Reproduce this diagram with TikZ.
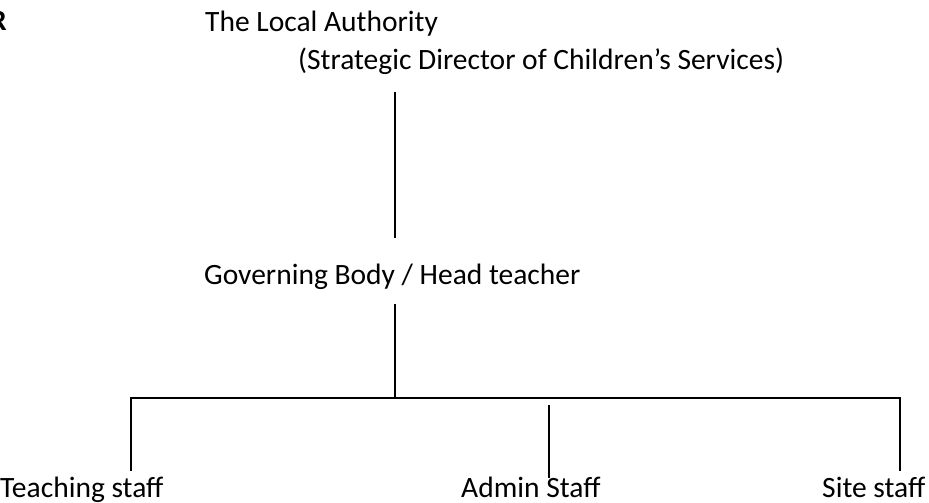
\documentclass[tikz,border=0pt]{standalone}
\usepackage{fontspec}
\setmainfont{Carlito}
\begin{document}
\begin{tikzpicture}[x=1pt,y=-1pt,
  txt/.style={inner sep=0pt, anchor=base west, font=\fontsize{29.5}{36}\selectfont},
  link/.style={line width=1.6pt, line cap=rect}]
\useasboundingbox (0,0) rectangle (929,503);

% labels
\node[txt, anchor=base east, font=\fontsize{29.5}{36}\selectfont\bfseries] (mark) at (7,31) {R};
\node[txt] (la) at (205,32) {The Local Authority};
\node[txt] (sd) at (298,70) {(Strategic Director of Children’s Services)};
\node[txt] (gb) at (204,284) {Governing Body / Head teacher};
\node[txt] (ts) at (0,497) {Teaching staff};
\node[txt] (as) at (461,497) {Admin Staff};
\node[txt] (ss) at (822,497) {Site staff};

% end points of the connectors
\coordinate (laB) at (395,93);
\coordinate (gbT) at (395,237);
\coordinate (gbB) at (395,305);
\coordinate (bar) at (395,398);
\coordinate (barL) at (131,398);
\coordinate (barR) at (900,398);
\coordinate (tsT) at (131,470);
\coordinate (asA) at (549,406);
\coordinate (asT) at (549,477);
\coordinate (ssT) at (900,470);

% connectors
\draw[link] (laB) -- (gbT);
\draw[link] (gbB) -- (bar);
\draw[link] (tsT) -- (barL) -- (barR) -- (ssT);
\draw[link] (asA) -- (asT);
\end{tikzpicture}
\end{document}
